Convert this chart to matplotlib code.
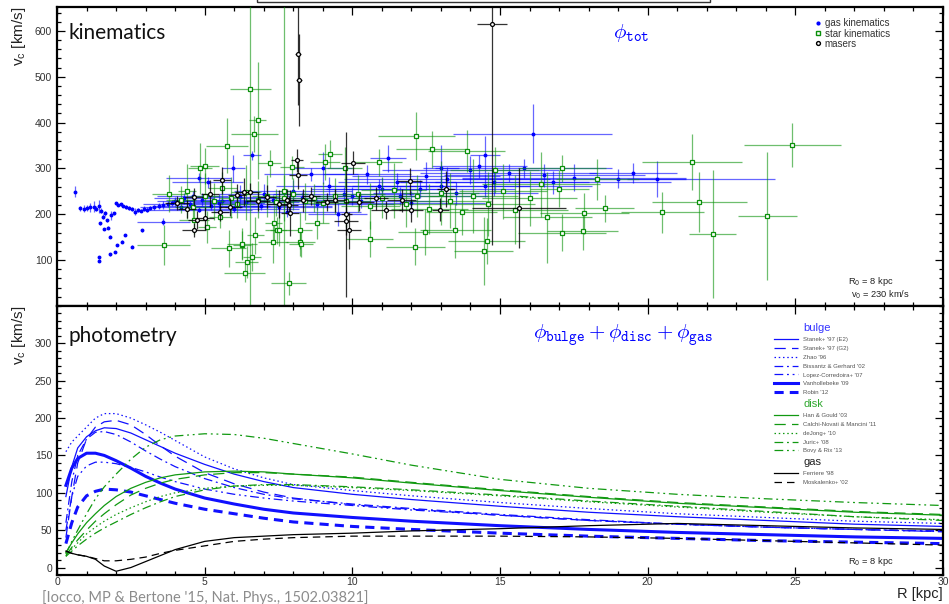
import matplotlib
matplotlib.use('Agg')
import matplotlib.pyplot as plt
from matplotlib.lines import Line2D
from matplotlib.patches import Rectangle
from matplotlib.ticker import MultipleLocator

plt.rcParams['font.family'] = ['Liberation Sans', 'DejaVu Sans']
plt.rcParams['mathtext.fontset'] = 'dejavusans'

# ---------------- top panel: kinematic tracers (R, vc, dR, dvc) ----------------
gas_R = [0.62, 0.79, 0.9, 1.0, 1.12, 1.24, 1.32, 1.41, 1.5, 1.47, 1.55, 1.6, 1.64, 1.7, 1.72,
         1.8, 1.82, 1.92, 1.97, 1.8, 1.41, 1.41, 2.03, 2.2, 2.31, 2.54, 2.88, 2.0, 2.08, 2.15,
         2.25, 2.35, 2.45, 2.55, 2.65, 2.75, 2.85, 2.95, 3.05, 3.15, 3.3, 3.45, 3.6, 3.75, 3.9,
         3.6, 4.0, 4.3, 4.6, 4.9, 4.8, 5.1, 5.97, 5.5, 6.2, 6.6, 7.0, 7.5, 8.0, 8.6, 9.2, 9.5,
         10.0, 10.5, 11.0, 11.5, 12.0, 12.5, 13.0, 13.5, 14.0, 14.3, 14.8, 15.3, 16.1, 16.5,
         17.5, 19.5, 19.0,
         4.2, 4.5, 4.8, 5.2, 5.6, 6.0, 6.4, 6.9, 7.3, 7.8, 8.3, 8.8, 9.7, 10.3, 10.9, 11.6,
         12.3, 13.2, 14.5, 15.8, 16.8, 9.0, 11.2, 14.5, 13.0, 20.3]
gas_v = [249, 213, 212, 214, 215, 216, 212, 217, 208, 180, 195, 168, 202, 187, 171,
         151, 198, 202, 118, 113, 107, 99, 133, 140, 155, 129, 165, 224, 220, 222,
         218, 216, 214, 211, 206, 210, 208, 212, 210, 214, 215, 218, 220, 222, 225,
         184, 228, 235, 240, 232, 280, 270, 300, 225, 238, 329, 245, 215, 250, 287, 262, 200,
         240, 287, 255, 270, 225, 283, 262, 246, 297, 305, 270, 290, 376, 285,
         280, 290, 278,
         215, 222, 210, 218, 230, 212, 226, 218, 232, 205, 236, 222, 245, 228, 262, 240,
         255, 278, 262, 300, 270, 300, 322, 330, 300, 277]
gas_dR = [0, 0, 0, 0, 0, 0, 0, 0, 0, 0, 0, 0, 0, 0, 0,
          0, 0, 0, 0, 0, 0, 0, 0, 0, 0, 0, 0, 0, 0, 0,
          0, 0, 0, 0, 0, 0, 0, 0, 0, 0, 0, 0, 0, 0, 0,
          0.9, 0.6, 1.0, 1.2, 1.0, 1.1, 1.2, 0.4, 1.5, 1.3, 0.3, 1.5, 1.8, 2.0, 1.6, 1.8, 1.0,
          2.2, 1.5, 2.4, 2.0, 2.5, 2.5, 3.0, 2.8, 3.0, 1.6, 3.2, 3.0, 2.7, 3.4,
          3.8, 1.5, 5.3,
          1.4, 1.6, 1.8, 2.0, 1.5, 2.2, 1.8, 2.4, 2.0, 2.5, 2.2, 2.6, 2.4, 2.8, 2.2, 3.0,
          3.2, 3.5, 3.6, 3.0, 4.0, 1.0, 0.6, 0.5, 0.6, 1.0]
gas_dv = [12, 6, 8, 6, 10, 12, 5, 14, 5, 4, 5, 3, 6, 3, 3,
          3, 10, 4, 3, 3, 3, 3, 3, 3, 3, 3, 3, 3, 3, 3,
          3, 4, 4, 4, 8, 4, 4, 5, 5, 5, 6, 6, 8, 6, 6,
          8, 10, 12, 10, 15, 10, 12, 30, 20, 25, 10, 20, 15, 25, 15, 20, 25,
          20, 20, 25, 20, 25, 30, 20, 25, 30, 25, 30, 20, 65, 25,
          30, 22, 20,
          6, 8, 6, 8, 10, 8, 10, 8, 10, 10, 12, 12, 15, 15, 15, 20,
          20, 25, 25, 20, 25, 35, 30, 40, 50, 40]

star_R = [3.61, 4.63, 4.85, 5.0, 5.08, 5.53, 5.75, 5.81, 6.26, 6.27, 6.35, 6.42, 6.55, 6.6,
          6.68, 6.72, 6.79, 7.2, 7.32, 7.33, 7.44, 7.5, 7.68, 7.84, 7.96, 8.22, 8.24, 8.26,
          8.8, 9.07, 9.25, 9.74, 10.59, 10.89, 12.13, 12.17, 12.46, 12.69, 13.49, 13.87,
          14.45, 14.55, 14.82, 16.6, 17.0, 17.1, 17.1, 17.8, 17.86, 18.3, 18.55, 20.5, 21.5,
          21.75, 22.2, 24.05, 24.9,
          3.8, 4.2, 4.4, 4.6, 5.0, 5.3, 5.6, 5.9, 6.1, 6.4, 6.8, 7.1, 7.4, 7.7, 8.0, 8.4,
          8.7, 9.0, 9.4, 9.8, 10.2, 10.6, 11.0, 11.4, 11.8, 12.2, 12.6, 13.0, 13.3, 13.7,
          14.1, 14.6, 15.1, 15.5, 16.0, 16.4]
star_v = [133, 187, 300, 305, 173, 194, 349, 126, 133, 135, 73, 96, 474, 107,
          375, 154, 405, 311, 139, 180, 165, 165, 250, 50, 303, 165, 140, 136,
          180, 314, 332, 302, 146, 313, 129, 370, 162, 342, 165, 338,
          120, 142, 296, 193, 256, 300, 160, 163, 202, 276, 213, 204, 314,
          227, 157, 196, 351,
          245, 232, 250, 215, 240, 228, 258, 236, 222, 248, 232, 240, 226, 236, 245, 228,
          236, 225, 240, 228, 245, 218, 236, 252, 222, 240, 212, 246, 230, 205,
          240, 222, 250, 210, 235, 265]
star_dR = [0.9, 0.5, 0.4, 0.5, 0.3, 0.4, 0.7, 0.6, 0.3, 0.5, 0.7, 0.4, 0.7, 0.3,
           0.8, 0.3, 0.3, 0.4, 0.5, 0.3, 0.4, 0.3, 0.2, 0.6, 0.4, 0.4, 0.5, 0.4,
           0.4, 0.5, 0.4, 0.6, 0.8, 0.8, 1.0, 1.3, 0.9, 1.2, 1.2, 1.3,
           1.0, 1.3, 1.5, 1.5, 1.0, 1.5, 1.5, 1.2, 1.5, 1.4, 1.0, 1.4, 1.7,
           1.6, 0.8, 1.0, 1.65,
           0.6, 0.5, 0.3, 0.6, 0.5, 0.4, 0.5, 0.4, 0.6, 0.5, 0.4, 0.5, 0.6, 0.4, 0.5, 0.5,
           0.6, 0.7, 0.6, 0.8, 0.9, 1.0, 1.0, 1.1, 1.2, 1.2, 1.3, 1.3, 1.4, 1.2,
           1.5, 1.6, 1.5, 1.8, 1.6, 2.0]
star_dv = [44, 30, 55, 40, 35, 25, 60, 40, 30, 35, 20, 35, 474, 30,
           40, 40, 128, 30, 45, 40, 30, 35, 420, 25, 25, 40, 30, 30,
           35, 40, 30, 45, 40, 30, 40, 52, 50, 40, 60, 45,
           75, 50, 50, 100, 40, 30, 40, 40, 45, 45, 30, 45, 62,
           65, 140, 140, 48,
           40, 30, 60, 30, 50, 40, 35, 45, 30, 60, 40, 45, 30, 50, 35, 40,
           30, 45, 40, 55, 40, 50, 45, 60, 50, 45, 55, 70, 60, 50,
           80, 70, 60, 75, 60, 70]

maser_R = [4.06, 4.4, 4.63, 4.63, 4.74, 5.02, 5.19, 5.53, 5.58, 5.87, 6.1, 6.32, 6.53,
           6.8, 7.1, 7.5, 7.8, 7.87, 7.9, 8.13, 8.17, 8.17, 8.2, 8.34, 8.6, 9.13, 9.4,
           9.78, 9.8, 9.88, 10.02, 10.22, 10.8, 11.13, 11.67, 11.95, 11.98, 12.98, 13.18,
           14.73, 15.64]
maser_v = [224, 212, 238, 165, 187, 191, 245, 205, 274, 216, 242, 249, 249,
           228, 238, 222, 231, 220, 202, 318, 285, 549, 493, 231, 240, 227, 231,
           185, 200, 165, 312, 227, 235, 210, 231, 272, 209, 210, 255,
           614, 213]
maser_dR = [0.4, 0.3, 0.3, 0.4, 0.3, 0.3, 0.3, 0.3, 0.3, 0.4, 0.3, 0.3, 0.3,
            0.4, 0.3, 0.4, 0.3, 0.3, 0.3, 0.2, 0.3, 0.1, 0.1, 0.4, 0.3, 0.4, 0.4,
            0.4, 0.2, 0.4, 0.4, 0.5, 0.4, 0.5, 0.5, 0.4, 0.4, 0.3, 0.3,
            0.5, 1.6]
maser_dv = [15, 20, 20, 15, 20, 25, 30, 20, 30, 20, 25, 30, 20,
            20, 25, 30, 25, 20, 50, 25, 30, 110, 100, 25, 20, 20, 25,
            30, 180, 40, 25, 20, 25, 20, 25, 30, 25, 25, 40,
            480, 87]

# ---------------- bottom panel: photometric models, vc(R) ----------------
R_grid = [0.3, 0.5, 0.7, 1.0, 1.3, 1.6, 2.0, 2.5, 3.0, 3.5, 4.0, 5.0, 6.0, 7.0, 8.0,
          10, 12, 15, 18, 21, 24, 27, 30]

stanek_e2 = [95, 135, 160, 175, 183, 187, 186, 180, 171, 162, 153, 138, 125, 115, 107,
             98, 91, 82, 74, 68, 63, 58, 55]
stanek_g2 = [40, 95, 140, 172, 188, 195, 197, 191, 178, 163, 149, 127, 112, 101, 93,
             84, 78, 70, 63, 58, 54, 51, 48]
zhao = [155, 168, 176, 188, 200, 206, 206, 200, 191, 181, 170, 148, 132, 120, 111,
        103, 96, 87, 79, 72, 67, 62, 59]
bissantz = [60, 115, 150, 172, 181, 182, 178, 168, 156, 145, 135, 119, 107, 98, 92,
            85, 79, 71, 64, 58, 54, 51, 49]
lopez = [50, 95, 122, 136, 141, 141, 139, 134, 128, 121, 115, 105, 98, 93, 89,
         83, 77, 70, 63, 58, 54, 51, 48]
vanhollebeke = [110, 133, 146, 153, 153, 150, 143, 133, 122, 113, 105, 93, 85, 78, 73,
                67, 62, 56, 51, 47, 44, 41, 39]
robin = [32, 60, 81, 96, 102, 105, 104, 101, 96, 91, 86, 78, 72, 66, 61,
         55, 51, 46, 42, 39, 36, 34, 32]
han_gould = [20, 33, 45, 60, 72, 83, 95, 106, 114, 120, 124, 128, 129, 128, 125,
             120, 113, 103, 94, 86, 80, 74, 70]
calchi = [16, 27, 37, 50, 62, 72, 84, 97, 106, 113, 118, 124, 127, 127, 125,
          121, 114, 104, 95, 87, 81, 75, 71]
dejong = [15, 25, 33, 45, 54, 62, 71, 80, 88, 95, 100, 106, 109, 110, 110,
          107, 103, 96, 88, 81, 74, 68, 64]
juric = [15, 22, 29, 38, 46, 53, 61, 71, 80, 88, 95, 104, 109, 111, 111,
         108, 104, 97, 89, 82, 75, 68, 63]
bovy = [18, 35, 50, 72, 92, 108, 125, 145, 161, 171, 176, 179, 178, 173, 166,
        152, 137, 118, 106, 98, 92, 87, 83]
ferriere = [22, 19, 17, 15, 11, 2, -5, 0, 8, 16, 24, 35, 40, 42, 44,
            46, 49, 52, 56, 59, 56, 53, 51]
moskalenko = [22, 19, 17, 15, 12, 9, 9, 11, 14, 19, 23, 29, 35, 38, 40,
              42, 42, 42, 41, 39, 36, 33, 30]

BLUE = '#1010ff'
GREEN = '#119911'

fig = plt.figure(figsize=(9.49, 6.04), dpi=100)
ax1 = fig.add_axes([0.0601, 0.4934, 0.9336, 0.4950])
ax2 = fig.add_axes([0.0601, 0.0480, 0.9336, 0.4454])

for ax in (ax1, ax2):
    ax.set_xlim(0, 30)
    ax.xaxis.set_major_locator(MultipleLocator(5))
    ax.xaxis.set_minor_locator(MultipleLocator(1))
    ax.tick_params(which='both', direction='in', top=True, right=True,
                   labelsize=7.5, labelcolor='#333333', width=0.9)
    ax.tick_params(which='major', length=6)
    ax.tick_params(which='minor', length=3)
    ax.tick_params(axis='x', pad=1.5)
    for s in ax.spines.values():
        s.set_linewidth(1.6)

# top panel
ax1.set_ylim(0, 652)
ax1.set_yticks([100, 200, 300, 400, 500, 600])
ax1.yaxis.set_minor_locator(MultipleLocator(20))
ax1.tick_params(labelbottom=False)

ax1.errorbar(gas_R, gas_v, xerr=gas_dR, yerr=gas_dv, fmt='o', ms=1.8, color='blue',
             ecolor=(0, 0, 1, 0.6), elinewidth=0.9, capsize=0, zorder=2)
ax1.errorbar(star_R, star_v, xerr=star_dR, yerr=star_dv, fmt='s', ms=3.0, mfc='white',
             mec='#0a8f0a', mew=0.9, ecolor=(0.05, 0.58, 0.05, 0.6), elinewidth=0.9,
             capsize=0, zorder=3)
ax1.errorbar(maser_R, maser_v, xerr=maser_dR, yerr=maser_dv, fmt='o', ms=2.8, mfc='white',
             mec='black', mew=0.9, ecolor=(0, 0, 0, 0.8), elinewidth=0.9, capsize=0, zorder=4)

top_handles = [Line2D([], [], ls='none', marker='o', ms=2, color='blue'),
               Line2D([], [], ls='none', marker='s', ms=2.8, mfc='white', mec='#0a8f0a', mew=1),
               Line2D([], [], ls='none', marker='o', ms=2.8, mfc='white', mec='black', mew=1)]
leg1 = ax1.legend(top_handles, ['gas kinematics', 'star kinematics', 'masers'],
                  loc='upper left', bbox_to_anchor=(0.850, 0.975), frameon=False,
                  fontsize=7, handlelength=0.8, handletextpad=0.3, labelspacing=0.02,
                  borderaxespad=0)
for t in leg1.get_texts():
    t.set_color('#333333')

ax1.text(0.0135, 0.913, 'kinematics', transform=ax1.transAxes, fontsize=15,
         family='Lato', va='center', ha='left', color='#111111')
ax1.text(0.648, 0.913, r'$\phi_{\mathtt{tot}}$', transform=ax1.transAxes, fontsize=15,
         color='blue', va='center', ha='center', math_fontfamily='cm')
ax1.text(0.893, 0.081, r'R$_0$ = 8 kpc', transform=ax1.transAxes, fontsize=6.7,
         color='#222222', va='center')
ax1.text(0.896, 0.036, r'v$_0$ = 230 km/s', transform=ax1.transAxes, fontsize=6.7,
         color='#222222', va='center')
ax1.set_ylabel(r'v$_\mathregular{c}$ [km/s]', loc='top', fontsize=11, color='#222222',
               labelpad=5)

# bottom panel
ax2.set_ylim(-10, 350)
ax2.set_yticks([0, 50, 100, 150, 200, 250, 300])
ax2.yaxis.set_minor_locator(MultipleLocator(10))

models = [
    ('bulge', None, None, None, None),
    (stanek_e2, "Stanek+ '97 (E2)", BLUE, 0.9, (None, None)),
    (stanek_g2, "Stanek+ '97 (G2)", BLUE, 0.9, (0, (9, 5))),
    (zhao, "Zhao '96", BLUE, 0.9, (0, (1.2, 2.2))),
    (bissantz, "Bissantz & Gerhard '02", BLUE, 0.9, (0, (7, 3, 1.5, 3))),
    (lopez, "Lopez-Corredoira+ '07", BLUE, 0.9, (0, (7, 3, 1.5, 3, 1.5, 3))),
    (vanhollebeke, "Vanhollebeke '09", BLUE, 2.2, (None, None)),
    (robin, "Robin '12", BLUE, 2.2, (0, (3, 2))),
    ('disk', None, None, None, None),
    (han_gould, "Han & Gould '03", GREEN, 0.9, (None, None)),
    (calchi, "Calchi-Novati & Mancini '11", GREEN, 0.9, (0, (9, 5))),
    (dejong, "deJong+ '10", GREEN, 0.9, (0, (1.2, 2.2))),
    (juric, "Juric+ '08", GREEN, 0.9, (0, (7, 3, 1.5, 3))),
    (bovy, "Bovy & Rix '13", GREEN, 0.9, (0, (7, 3, 1.5, 3, 1.5, 3))),
    ('gas', None, None, None, None),
    (ferriere, "Ferriere '98", 'black', 0.9, (None, None)),
    (moskalenko, "Moskalenko+ '02", 'black', 0.9, (0, (6, 4))),
]
heading_colors = {'bulge': '#3535ff', 'disk': '#2fa82f', 'gas': '#222222'}

handles, labels, is_head = [], [], []
for vals, lab, col, lw, dash in models:
    if isinstance(vals, str):
        handles.append(Line2D([], [], ls='none'))
        labels.append(vals)
        is_head.append(True)
        continue
    if dash[0] is None:
        ln, = ax2.plot(R_grid, vals, color=col, lw=lw, ls='-')
    else:
        ln, = ax2.plot(R_grid, vals, color=col, lw=lw, ls=dash)
    handles.append(ln)
    labels.append(lab)
    is_head.append(False)

leg2 = ax2.legend(handles, labels, loc='upper left', bbox_to_anchor=(0.806, 0.945),
                  frameon=False, fontsize=4.3, handlelength=4.1, handletextpad=0.9,
                  labelspacing=0.62, borderaxespad=0)
for t, h, lab in zip(leg2.get_texts(), is_head, labels):
    if h:
        t.set_fontsize(8)
        t.set_color(heading_colors[lab])
    else:
        t.set_color('#555555')

ax2.text(0.0135, 0.888, 'photometry', transform=ax2.transAxes, fontsize=15,
         family='Lato', va='center', ha='left', color='#111111')
ax2.text(0.639, 0.888,
         r'$\phi_{\mathtt{bulge}}+\phi_{\mathtt{disc}}+\phi_{\mathtt{gas}}$',
         transform=ax2.transAxes, fontsize=15, color='blue', va='center', ha='center',
         math_fontfamily='cm')
ax2.text(0.893, 0.05, r'R$_0$ = 8 kpc', transform=ax2.transAxes, fontsize=6.7,
         color='#222222', va='center')
ax2.set_ylabel(r'v$_\mathregular{c}$ [km/s]', loc='top', fontsize=11, color='#222222',
               labelpad=5)
ax2.set_xlabel('R [kpc]', loc='right', fontsize=10.5, color='#222222', labelpad=0)

# cut-off frame at the very top and the citation
fig.add_artist(Rectangle((0.2708, 0.9967), 0.4773, 0.05, transform=fig.transFigure,
                         fill=False, lw=1.0, ec='#333333'))
fig.text(0.044, 0.0105, "[Iocco, MP & Bertone '15, Nat. Phys., 1502.03821]",
         fontsize=10.5, family='Lato', color='#8c8c8c', va='center', ha='left')

fig.savefig('out.png', dpi=100)
